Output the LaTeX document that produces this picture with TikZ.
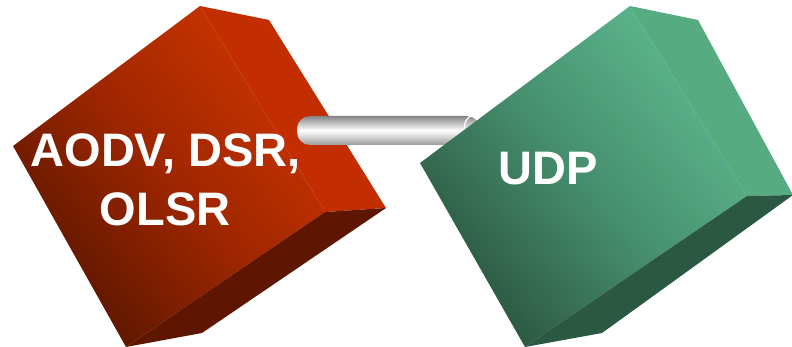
\documentclass[tikz,border=0pt]{standalone}
\usepackage{fontspec}
\setmainfont{Liberation Sans}
\begin{document}
\begin{tikzpicture}[x=1pt,y=-1pt,
  lbl/.style={text=white,font=\bfseries\fontsize{47}{56}\selectfont,anchor=base,inner sep=0pt},
  redfront/.style={top color=redhi,bottom color=redlo,middle color=redmid,shading angle=-50},
  greenfront/.style={top color=grnhi,bottom color=grnlo,middle color=grnmid,shading angle=-50},
  rodshade/.style={top color=rodtop,bottom color=rodbot,middle color=white}]
\definecolor{redhi}{HTML}{CC3400}
\definecolor{redmid}{HTML}{9E2600}
\definecolor{redlo}{HTML}{581600}
\definecolor{redside}{HTML}{C22E00}
\definecolor{redbot}{HTML}{5E1600}
\definecolor{grnhi}{HTML}{5CB88F}
\definecolor{grnmid}{HTML}{468F6E}
\definecolor{grnlo}{HTML}{2B5540}
\definecolor{grnside}{HTML}{57AB80}
\definecolor{grnbot}{HTML}{2A5843}
\definecolor{rodtop}{HTML}{858585}
\definecolor{rodbot}{HTML}{9A9A9A}
\useasboundingbox (0,0) rectangle (792,347);
% red cube
\coordinate (rT) at (200,6);
\coordinate (rK) at (269,20);
\coordinate (rR) at (386,208);
\coordinate (rI) at (325,212);
\coordinate (rC) at (202,333);
\coordinate (rB) at (126,347);
\coordinate (rL) at (13,146);
\shade[redfront] (rL) -- (rT) -- (rI) -- (rB) -- cycle;
\fill[redside] (rT) -- (rK) -- (rR) -- (rI) -- cycle;
\fill[redbot] (rI) -- (rR) -- (rC) -- (rB) -- cycle;
% rod
\coordinate (rodA) at (297,116);
\coordinate (rodB) at (480,145);
\shade[rodshade,rounded corners=13pt] (rodB) -- (rodA |- rodB) -- (rodA) -- (rodB |- rodA) [sharp corners] -- cycle;
\draw[white,line width=1.2pt] (472,130.5) ellipse (8 and 14.5);
% green cube
\coordinate (gT) at (630,6);
\coordinate (gK) at (698,20);
\coordinate (gR) at (793,195);
\coordinate (gI) at (747,196);
\coordinate (gC) at (602,333);
\coordinate (gB) at (525,347);
\coordinate (gL) at (420,163);
\shade[greenfront] (gL) -- (gT) -- (gI) -- (gB) -- cycle;
\fill[grnside] (gT) -- (gK) -- (gR) -- (gI) -- cycle;
\fill[grnbot] (gI) -- (gR) -- (gC) -- (gB) -- cycle;
% labels
\node[lbl] (red1) at (165.5,167) {AODV, DSR,};
\node[lbl] (red2) at (165,226) {OLSR};
\node[lbl] (udp) at (548,185) {UDP};
\end{tikzpicture}
\end{document}
